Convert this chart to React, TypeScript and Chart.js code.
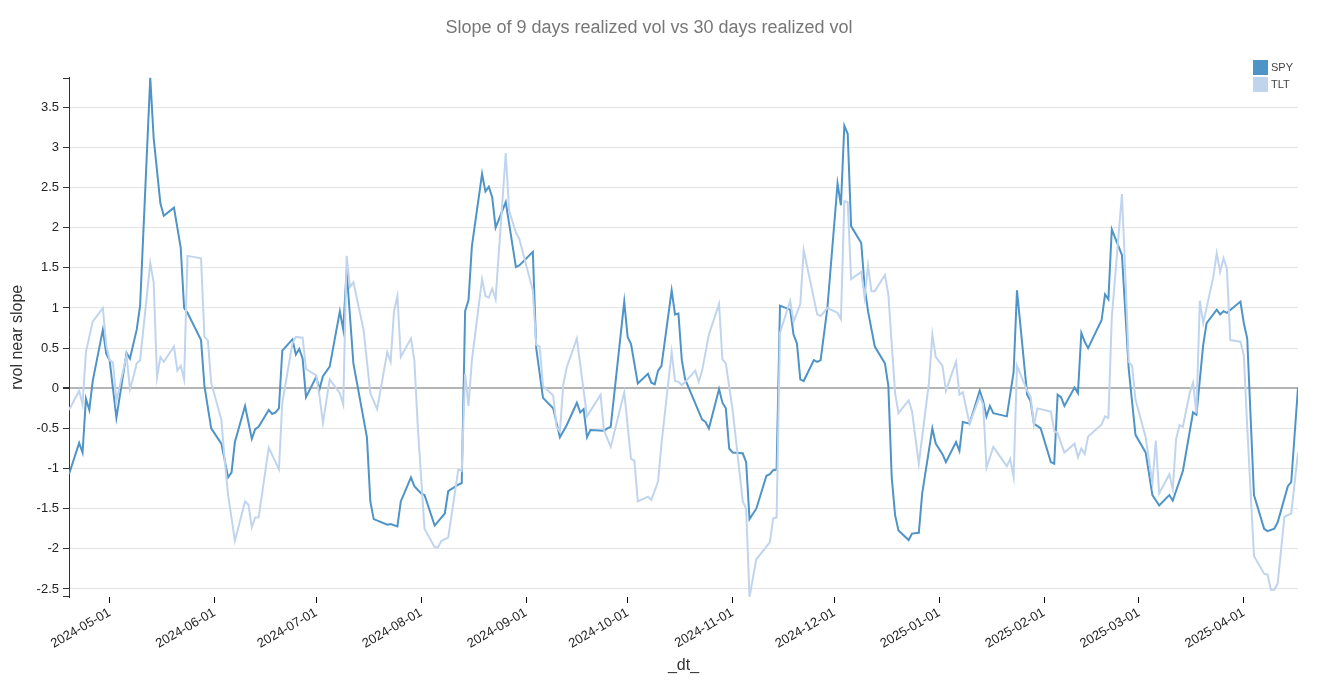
import { useEffect, useRef } from "react";
import { Chart, registerables } from "chart.js";

Chart.register(...registerables);

const chartTitle = "Slope of 9 days realized vol vs 30 days realized vol";
const xAxisTitle = "_dt_";
const yAxisTitle = "rvol near slope";
const seriesNames = ["SPY", "TLT"];

const spyDates = [
  "2024-04-19", "2024-04-22", "2024-04-23", "2024-04-24", "2024-04-25", "2024-04-26", "2024-04-29", "2024-04-30",
  "2024-05-01", "2024-05-03", "2024-05-06", "2024-05-07", "2024-05-09", "2024-05-10", "2024-05-13", "2024-05-14",
  "2024-05-16", "2024-05-17", "2024-05-20", "2024-05-22", "2024-05-23", "2024-05-24", "2024-05-28", "2024-05-29",
  "2024-05-31", "2024-06-03", "2024-06-05", "2024-06-06", "2024-06-07", "2024-06-10", "2024-06-12", "2024-06-13",
  "2024-06-14", "2024-06-17", "2024-06-18", "2024-06-19", "2024-06-20", "2024-06-21", "2024-06-24", "2024-06-25",
  "2024-06-26", "2024-06-27", "2024-06-28", "2024-07-01", "2024-07-02", "2024-07-03", "2024-07-05", "2024-07-08",
  "2024-07-09", "2024-07-10", "2024-07-12", "2024-07-16", "2024-07-17", "2024-07-18", "2024-07-22", "2024-07-23",
  "2024-07-25", "2024-07-26", "2024-07-29", "2024-07-30", "2024-08-01", "2024-08-02", "2024-08-05", "2024-08-08",
  "2024-08-09", "2024-08-12", "2024-08-13", "2024-08-14", "2024-08-15", "2024-08-16", "2024-08-19", "2024-08-20",
  "2024-08-21", "2024-08-22", "2024-08-23", "2024-08-26", "2024-08-29", "2024-08-30", "2024-09-03", "2024-09-04",
  "2024-09-06", "2024-09-09", "2024-09-11", "2024-09-13", "2024-09-16", "2024-09-17", "2024-09-18", "2024-09-19",
  "2024-09-20", "2024-09-24", "2024-09-25", "2024-09-26", "2024-09-30", "2024-10-01", "2024-10-02", "2024-10-04",
  "2024-10-07", "2024-10-08", "2024-10-09", "2024-10-10", "2024-10-11", "2024-10-14", "2024-10-15", "2024-10-16",
  "2024-10-17", "2024-10-18", "2024-10-23", "2024-10-24", "2024-10-25", "2024-10-28", "2024-10-29", "2024-10-30",
  "2024-10-31", "2024-11-01", "2024-11-04", "2024-11-05", "2024-11-06", "2024-11-08", "2024-11-11", "2024-11-12",
  "2024-11-13", "2024-11-14", "2024-11-15", "2024-11-18", "2024-11-19", "2024-11-20", "2024-11-21", "2024-11-22",
  "2024-11-25", "2024-11-26", "2024-11-27", "2024-11-29", "2024-12-02", "2024-12-03", "2024-12-04", "2024-12-05",
  "2024-12-06", "2024-12-09", "2024-12-10", "2024-12-11", "2024-12-13", "2024-12-16", "2024-12-17", "2024-12-18",
  "2024-12-19", "2024-12-20", "2024-12-23", "2024-12-24", "2024-12-26", "2024-12-27", "2024-12-30", "2024-12-31",
  "2025-01-02", "2025-01-03", "2025-01-06", "2025-01-07", "2025-01-08", "2025-01-10", "2025-01-13", "2025-01-14",
  "2025-01-15", "2025-01-16", "2025-01-17", "2025-01-21", "2025-01-23", "2025-01-24", "2025-01-27", "2025-01-28",
  "2025-01-29", "2025-01-31", "2025-02-03", "2025-02-04", "2025-02-05", "2025-02-06", "2025-02-07", "2025-02-10",
  "2025-02-11", "2025-02-12", "2025-02-13", "2025-02-14", "2025-02-18", "2025-02-19", "2025-02-20", "2025-02-21",
  "2025-02-24", "2025-02-26", "2025-02-28", "2025-03-03", "2025-03-05", "2025-03-07", "2025-03-10", "2025-03-11",
  "2025-03-14", "2025-03-17", "2025-03-18", "2025-03-20", "2025-03-21", "2025-03-24", "2025-03-25", "2025-03-26",
  "2025-03-27", "2025-03-31", "2025-04-01", "2025-04-02", "2025-04-04", "2025-04-07", "2025-04-08", "2025-04-10",
  "2025-04-11", "2025-04-14", "2025-04-15", "2025-04-17",
];
const spyValues = [
  -1.07, -0.68, -0.8, -0.13, -0.27, 0.09, 0.73, 0.43,
  0.35, -0.37, 0.44, 0.37, 0.73, 1.03, 3.87, 3.12,
  2.3, 2.15, 2.25, 1.75, 1.0, 0.94, 0.6, 0.03,
  -0.5, -0.69, -1.11, -1.05, -0.67, -0.22, -0.63, -0.51,
  -0.48, -0.27, -0.32, -0.3, -0.25, 0.47, 0.61, 0.42,
  0.49, 0.37, -0.11, 0.14, -0.01, 0.15, 0.27, 0.96,
  0.73, 1.47, 0.31, -0.61, -1.41, -1.63, -1.7, -1.69,
  -1.72, -1.41, -1.11, -1.22, -1.31, -1.33, -1.71, -1.56,
  -1.28, -1.2, -1.18, 0.96, 1.1, 1.77, 2.67, 2.45,
  2.51, 2.38, 2.0, 2.32, 1.51, 1.53, 1.7, 0.5,
  -0.12, -0.25, -0.61, -0.46, -0.18, -0.3, -0.26, -0.61,
  -0.52, -0.53, -0.5, -0.48, 1.08, 0.64, 0.55, 0.06,
  0.18, 0.07, 0.05, 0.22, 0.28, 1.22, 0.92, 0.93,
  0.35, 0.11, -0.39, -0.42, -0.5, -0.01, -0.18, -0.25,
  -0.75, -0.8, -0.81, -0.92, -1.63, -1.5, -1.09, -1.07,
  -1.02, -1.01, 1.03, 0.98, 0.67, 0.56, 0.11, 0.09,
  0.35, 0.33, 0.35, 1.0, 2.55, 2.28, 3.27, 3.17,
  2.02, 1.81, 1.26, 0.96, 0.52, 0.31, 0.03, -1.11,
  -1.58, -1.77, -1.89, -1.81, -1.8, -1.31, -0.5, -0.69,
  -0.82, -0.92, -0.67, -0.78, -0.42, -0.44, -0.03, -0.16,
  -0.35, -0.22, -0.31, -0.35, 0.2, 1.22, -0.08, -0.16,
  -0.44, -0.5, -0.92, -0.94, -0.08, -0.11, -0.22, 0.01,
  -0.06, 0.69, 0.58, 0.5, 0.85, 1.17, 1.11, 1.98,
  1.66, 0.24, -0.58, -0.8, -1.33, -1.46, -1.33, -1.4,
  -1.03, -0.3, -0.33, 0.54, 0.81, 0.98, 0.92, 0.96,
  0.94, 1.08, 0.81, 0.62, -1.33, -1.75, -1.78, -1.75,
  -1.67, -1.22, -1.17, 0.01,
];

const tltDates = [
  "2024-04-19", "2024-04-22", "2024-04-23", "2024-04-24", "2024-04-26", "2024-04-29", "2024-04-30", "2024-05-01",
  "2024-05-02", "2024-05-03", "2024-05-06", "2024-05-07", "2024-05-08", "2024-05-09", "2024-05-10", "2024-05-13",
  "2024-05-14", "2024-05-15", "2024-05-16", "2024-05-17", "2024-05-20", "2024-05-21", "2024-05-22", "2024-05-23",
  "2024-05-24", "2024-05-28", "2024-05-29", "2024-05-30", "2024-05-31", "2024-06-03", "2024-06-04", "2024-06-05",
  "2024-06-07", "2024-06-10", "2024-06-11", "2024-06-12", "2024-06-13", "2024-06-14", "2024-06-17", "2024-06-20",
  "2024-06-21", "2024-06-24", "2024-06-25", "2024-06-27", "2024-06-28", "2024-07-01", "2024-07-02", "2024-07-03",
  "2024-07-05", "2024-07-08", "2024-07-09", "2024-07-10", "2024-07-11", "2024-07-12", "2024-07-15", "2024-07-17",
  "2024-07-19", "2024-07-22", "2024-07-23", "2024-07-24", "2024-07-25", "2024-07-26", "2024-07-29", "2024-07-30",
  "2024-07-31", "2024-08-02", "2024-08-05", "2024-08-06", "2024-08-07", "2024-08-09", "2024-08-12", "2024-08-13",
  "2024-08-14", "2024-08-15", "2024-08-16", "2024-08-19", "2024-08-20", "2024-08-21", "2024-08-22", "2024-08-23",
  "2024-08-26", "2024-08-27", "2024-08-29", "2024-08-30", "2024-09-03", "2024-09-04", "2024-09-05", "2024-09-06",
  "2024-09-09", "2024-09-10", "2024-09-11", "2024-09-12", "2024-09-13", "2024-09-16", "2024-09-19", "2024-09-23",
  "2024-09-24", "2024-09-26", "2024-09-30", "2024-10-02", "2024-10-03", "2024-10-04", "2024-10-07", "2024-10-08",
  "2024-10-10", "2024-10-11", "2024-10-14", "2024-10-15", "2024-10-16", "2024-10-17", "2024-10-18", "2024-10-21",
  "2024-10-22", "2024-10-23", "2024-10-25", "2024-10-28", "2024-10-29", "2024-10-30", "2024-11-01", "2024-11-04",
  "2024-11-05", "2024-11-06", "2024-11-08", "2024-11-12", "2024-11-13", "2024-11-14", "2024-11-15", "2024-11-18",
  "2024-11-19", "2024-11-21", "2024-11-22", "2024-11-26", "2024-11-27", "2024-11-29", "2024-12-02", "2024-12-03",
  "2024-12-04", "2024-12-05", "2024-12-06", "2024-12-09", "2024-12-10", "2024-12-11", "2024-12-12", "2024-12-13",
  "2024-12-16", "2024-12-17", "2024-12-19", "2024-12-20", "2024-12-23", "2024-12-24", "2024-12-26", "2024-12-29",
  "2024-12-30", "2024-12-31", "2025-01-02", "2025-01-03", "2025-01-06", "2025-01-07", "2025-01-08", "2025-01-10",
  "2025-01-13", "2025-01-14", "2025-01-15", "2025-01-17", "2025-01-21", "2025-01-22", "2025-01-23", "2025-01-24",
  "2025-01-27", "2025-01-28", "2025-01-29", "2025-01-30", "2025-02-03", "2025-02-04", "2025-02-05", "2025-02-07",
  "2025-02-10", "2025-02-11", "2025-02-12", "2025-02-13", "2025-02-14", "2025-02-18", "2025-02-19", "2025-02-20",
  "2025-02-21", "2025-02-24", "2025-02-25", "2025-02-26", "2025-02-27", "2025-02-28", "2025-03-03", "2025-03-05",
  "2025-03-06", "2025-03-07", "2025-03-10", "2025-03-11", "2025-03-12", "2025-03-13", "2025-03-14", "2025-03-16",
  "2025-03-17", "2025-03-18", "2025-03-19", "2025-03-20", "2025-03-23", "2025-03-24", "2025-03-25", "2025-03-26",
  "2025-03-27", "2025-03-28", "2025-03-31", "2025-04-01", "2025-04-02", "2025-04-04", "2025-04-07", "2025-04-08",
  "2025-04-09", "2025-04-10", "2025-04-11", "2025-04-13", "2025-04-15", "2025-04-17",
];
const tltValues = [
  -0.27, -0.03, -0.2, 0.45, 0.83, 1.0, 0.54, 0.35,
  0.32, -0.16, 0.41, -0.01, 0.14, 0.31, 0.35, 1.56,
  1.32, 0.14, 0.39, 0.33, 0.52, 0.22, 0.28, 0.11,
  1.65, 1.62, 0.64, 0.6, 0.07, -0.39, -0.9, -1.33,
  -1.9, -1.41, -1.45, -1.73, -1.61, -1.61, -0.74, -1.01,
  -0.18, 0.56, 0.64, 0.63, 0.24, 0.16, -0.1, -0.43,
  0.11, -0.06, -0.2, 1.65, 1.26, 1.32, 0.73, -0.06,
  -0.26, 0.45, 0.33, 0.96, 1.15, 0.39, 0.62, 0.35,
  -0.46, -1.75, -1.98, -1.98, -1.9, -1.86, -1.01, -1.03,
  0.18, -0.22, 0.35, 1.36, 1.15, 1.13, 1.24, 1.11,
  2.93, 2.21, 1.94, 1.86, 1.22, 0.54, 0.52, 0.03,
  -0.09, -0.48, -0.54, 0.05, 0.26, 0.62, -0.35, -0.08,
  -0.52, -0.73, -0.05, -0.88, -0.9, -1.41, -1.35, -1.39,
  -1.16, -0.69, 0.45, 0.09, 0.08, 0.04, 0.08, 0.22,
  0.08, 0.22, 0.67, 1.05, 0.36, 0.31, -0.27, -1.41,
  -1.5, -2.6, -2.13, -1.92, -1.62, -1.61, 0.69, 1.09,
  0.83, 1.05, 1.72, 0.92, 0.9, 1.0, 0.94, 0.86,
  2.33, 2.32, 1.36, 1.45, 1.13, 1.53, 1.21, 1.21,
  1.41, 1.17, -0.06, -0.31, -0.15, -0.29, -0.94, 0.07,
  0.67, 0.39, 0.28, -0.03, 0.33, -0.08, -0.05, -0.44,
  -0.1, -0.2, -0.99, -0.73, -0.97, -0.88, -1.11, 0.28,
  -0.03, -0.1, -0.46, -0.25, -0.29, -0.53, -0.56, -0.8,
  -0.69, -0.86, -0.75, -0.82, -0.6, -0.45, -0.35, -0.37,
  0.88, 2.42, 1.43, 0.33, 0.28, -0.14, -0.61, -1.18,
  -0.65, -1.31, -1.07, -1.26, -0.63, -0.46, -0.48, -0.06,
  0.07, -0.31, 1.09, 0.81, 1.39, 1.68, 1.45, 1.62,
  1.49, 0.6, 0.58, 0.41, -0.48, -2.09, -2.31, -2.32,
  -2.51, -2.51, -2.43, -1.6, -1.56, -0.8,
];

const xTickDates = [
  "2024-05-01", "2024-06-01", "2024-07-01", "2024-08-01", "2024-09-01", "2024-10-01",
  "2024-11-01", "2024-12-01", "2025-01-01", "2025-02-01", "2025-03-01", "2025-04-01",
];
const yTickValues = [-2.5, -2, -1.5, -1, -0.5, 0, 0.5, 1, 1.5, 2, 2.5, 3, 3.5];

const FONT = "'Liberation Sans', Arial, Helvetica, sans-serif";
const SPY_COLOR = "rgb(79,148,198)";
const TLT_COLOR = "rgb(192,213,237)";

const toMs = (d: string) => Date.parse(d + "T00:00:00Z");
const fmtDate = (v: number) => new Date(v).toISOString().slice(0, 10);

export default function App() {
  const canvasRef = useRef<HTMLCanvasElement | null>(null);

  useEffect(() => {
    document.body.style.margin = "0";
    document.body.style.overflow = "hidden";
    const canvas = canvasRef.current;
    if (!canvas) return;

    const allDates = [...spyDates, ...tltDates].map(toMs);
    const allValues = [...spyValues, ...tltValues];
    const xMin = Math.min(...allDates);
    const xMax = Math.max(...allDates);
    const yMin = Math.min(...allValues);
    const yMax = Math.max(...allValues);

    const legendPlugin = {
      id: "customLegendAndCaps",
      afterDraw(chart: any) {
        const { ctx, chartArea } = chart;
        ctx.save();
        // axis end caps
        ctx.strokeStyle = "#333";
        ctx.lineWidth = 1;
        ctx.beginPath();
        ctx.moveTo(chartArea.left - 6, Math.round(chartArea.top) + 0.5);
        ctx.lineTo(chartArea.left, Math.round(chartArea.top) + 0.5);
        ctx.moveTo(chartArea.left - 6, Math.round(chartArea.bottom) - 0.5);
        ctx.lineTo(chartArea.left, Math.round(chartArea.bottom) - 0.5);
        ctx.stroke();
        // legend
        const colors = [SPY_COLOR, TLT_COLOR];
        ctx.font = `11px ${FONT}`;
        ctx.textBaseline = "middle";
        ctx.textAlign = "left";
        seriesNames.forEach((name, i) => {
          const y = 60 + i * 17;
          ctx.fillStyle = colors[i];
          ctx.fillRect(1253, y, 15, 15);
          ctx.fillStyle = "#444";
          ctx.fillText(name, 1271, y + 8);
        });
        ctx.restore();
      },
    };

    const chart = new Chart(canvas, {
      type: "line",
      data: {
        datasets: [
          {
            label: seriesNames[0],
            data: spyDates.map((d, i) => ({ x: toMs(d), y: spyValues[i] })),
            borderColor: SPY_COLOR,
            backgroundColor: SPY_COLOR,
            borderWidth: 2,
            pointRadius: 0,
            tension: 0,
            order: 1,
          },
          {
            label: seriesNames[1],
            data: tltDates.map((d, i) => ({ x: toMs(d), y: tltValues[i] })),
            borderColor: TLT_COLOR,
            backgroundColor: TLT_COLOR,
            borderWidth: 2,
            pointRadius: 0,
            tension: 0,
            order: 0,
          },
        ],
      },
      options: {
        animation: false,
        responsive: false,
        layout: { padding: { left: 0, right: 23, top: 0, bottom: 0 } },
        plugins: {
          legend: { display: false },
          tooltip: { enabled: false },
          title: {
            display: true,
            text: chartTitle,
            color: "#777",
            font: { family: FONT, size: 18, weight: "normal" },
            padding: { top: 17, bottom: 39 },
          },
        },
        scales: {
          x: {
            type: "linear",
            min: xMin,
            max: xMax,
            afterBuildTicks: (scale: any) => {
              scale.ticks = xTickDates.map((d) => ({ value: toMs(d) }));
            },
            afterFit: (scale: any) => {
              scale.height = 100;
            },
            ticks: {
              autoSkip: false,
              maxRotation: 30,
              minRotation: 30,
              color: "#222",
              padding: 2,
              font: { family: FONT, size: 13 },
              callback: (v: any) => fmtDate(Number(v)),
            },
            grid: {
              drawOnChartArea: false,
              drawTicks: true,
              tickLength: 6,
              tickColor: "#000",
            },
            border: { display: false },
            title: {
              display: true,
              text: xAxisTitle,
              color: "#333",
              font: { family: FONT, size: 16 },
              padding: { top: 0, bottom: 22 },
            },
          },
          y: {
            type: "linear",
            min: yMin,
            max: yMax,
            afterBuildTicks: (scale: any) => {
              scale.ticks = yTickValues.map((v) => ({ value: v }));
            },
            afterFit: (scale: any) => {
              scale.width = 69;
            },
            ticks: {
              color: "#222",
              padding: 4,
              font: { family: FONT, size: 13 },
              callback: (v: any) => String(v),
            },
            grid: {
              color: (ctx: any) => (ctx.tick && ctx.tick.value === 0 ? "#b5b5b5" : "#e4e4e4"),
              lineWidth: (ctx: any) => (ctx.tick && ctx.tick.value === 0 ? 2 : 1),
              tickColor: "#333",
              tickLength: 6,
            },
            border: { display: true, color: "#333", width: 1 },
            title: {
              display: true,
              text: yAxisTitle,
              color: "#333",
              font: { family: FONT, size: 16 },
              padding: { top: 8, bottom: 0 },
            },
          },
        },
      },
      plugins: [legendPlugin],
    } as any);

    return () => chart.destroy();
  }, []);

  return (
    <div style={{ width: 1321, height: 697 }}>
      <canvas ref={canvasRef} width={1321} height={697} style={{ display: "block", width: 1321, height: 697 }} />
    </div>
  );
}
